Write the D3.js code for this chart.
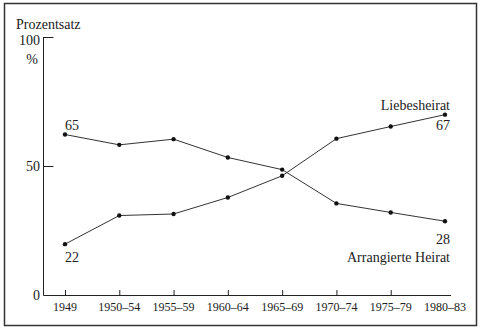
<!DOCTYPE html>
<html>
<head>
<meta charset="utf-8">
<script src="https://cdn.jsdelivr.net/npm/d3@7"></script>
<style>
  body { margin: 0; background: #fff; }
  svg { display: block; font-family: 'Liberation Serif', 'DejaVu Serif', serif; }
</style>
</head>
<body>
<svg></svg>
<script>
// Data
const periods = ['1949', '1950–54', '1955–59', '1960–64', '1965–69', '1970–74', '1975–79', '1980–83']
const arranged = [62.2, 58.2, 60.4, 53.3, 48.6, 35.5, 32, 28.6]
const love = [19.7, 30.8, 31.4, 37.8, 46.2, 60.6, 65.3, 69.9]
const yTicks = [0, 50, 100]

const width = 481
const height = 331
const ink = '#222'

const svg = d3.select('svg').attr('width', width).attr('height', height)

// Frame
svg
  .append('rect')
  .attr('x', 4.5)
  .attr('y', 3.5)
  .attr('width', 472)
  .attr('height', 322)
  .attr('fill', 'none')
  .attr('stroke', '#333')
  .attr('stroke-width', 1.5)

const x = d3.scalePoint().domain(periods).range([65, 445])
const y = d3.scaleLinear().domain([0, 100]).range([295, 37])

// Axes, print style with inward ticks
const axisX0 = 43.5
const axisX1 = 451
svg
  .append('path')
  .attr('d', `M${axisX0},${y(100)}V${y(0) + 0.5}H${axisX1}`)
  .attr('fill', 'none')
  .attr('stroke', ink)
  .attr('stroke-width', 1)

// y ticks point right
svg
  .selectAll('.ytick')
  .data(yTicks.filter((d) => d > 0))
  .enter()
  .append('line')
  .attr('x1', axisX0)
  .attr('x2', axisX0 + 10)
  .attr('y1', (d) => y(d) + 0.5)
  .attr('y2', (d) => y(d) + 0.5)
  .attr('stroke', ink)

svg
  .selectAll('.ylabel')
  .data(yTicks)
  .enter()
  .append('text')
  .attr('x', 40)
  .attr('y', (d) => (d === 100 ? y(d) + 3 : y(d)))
  .attr('dy', '0.35em')
  .attr('text-anchor', 'end')
  .attr('font-size', 14)
  .attr('fill', ink)
  .text((d) => d)

svg
  .append('text')
  .attr('x', 38)
  .attr('y', 64)
  .attr('text-anchor', 'end')
  .attr('font-size', 14)
  .attr('fill', ink)
  .text('%')

svg
  .append('text')
  .attr('x', 16)
  .attr('y', 29)
  .attr('font-size', 14)
  .attr('fill', ink)
  .text('Prozentsatz')

// x ticks point up
svg
  .selectAll('.xtick')
  .data(periods.slice(0, -1))
  .enter()
  .append('line')
  .attr('x1', (d) => x(d) + 0.5)
  .attr('x2', (d) => x(d) + 0.5)
  .attr('y1', y(0))
  .attr('y2', y(0) - 5)
  .attr('stroke', ink)

svg
  .selectAll('.xlabel')
  .data(periods)
  .enter()
  .append('text')
  .attr('x', (d) => x(d))
  .attr('y', 311)
  .attr('text-anchor', 'middle')
  .attr('font-size', 12)
  .attr('fill', ink)
  .text((d) => d)

// Series
const line = d3
  .line()
  .x((d, i) => x(periods[i]))
  .y((d) => y(d))

;[arranged, love].forEach((series) => {
  svg
    .append('path')
    .datum(series)
    .attr('d', line)
    .attr('fill', 'none')
    .attr('stroke', '#333')
    .attr('stroke-width', 1)
  svg
    .selectAll(null)
    .data(series)
    .enter()
    .append('circle')
    .attr('cx', (d, i) => x(periods[i]))
    .attr('cy', (d) => y(d))
    .attr('r', 2.2)
    .attr('fill', '#111')
})

// Annotations
const notes = [
  { text: '65', x: 65, y: 130, anchor: 'start' },
  { text: '22', x: 65, y: 262, anchor: 'start' },
  { text: 'Liebesheirat', x: 450, y: 110, anchor: 'end' },
  { text: '67', x: 450, y: 130, anchor: 'end' },
  { text: '28', x: 450, y: 244, anchor: 'end' },
  { text: 'Arrangierte Heirat', x: 450, y: 262, anchor: 'end' },
]
svg
  .selectAll('.note')
  .data(notes)
  .enter()
  .append('text')
  .attr('x', (d) => d.x)
  .attr('y', (d) => d.y)
  .attr('text-anchor', (d) => d.anchor)
  .attr('font-size', 14)
  .attr('fill', ink)
  .text((d) => d.text)
</script>
</body>
</html>
